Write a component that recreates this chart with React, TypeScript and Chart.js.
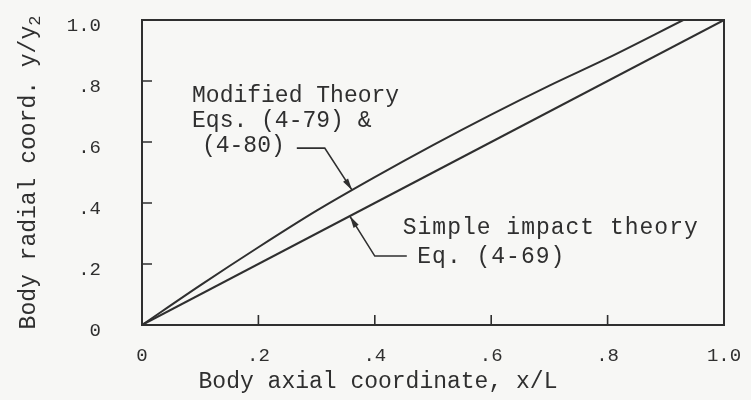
import React, { useEffect, useRef } from "react";
import { Chart, registerables } from "chart.js";

Chart.register(...registerables);

// Body profiles: radial coordinate y/y2 against axial coordinate x/L
const modifiedX = [0, 0.1, 0.2, 0.3, 0.4, 0.5, 0.6, 0.7, 0.8, 0.93];
const modifiedY = [0, 0.13, 0.255, 0.375, 0.485, 0.59, 0.69, 0.785, 0.875, 1.0];
const simpleX = [0, 0.5, 1.0];
const simpleY = [0, 0.5, 1.0];

const xTickValues = [0, 0.2, 0.4, 0.6, 0.8, 1.0];
const xTickLabels = ["0", ".2", ".4", ".6", ".8", "1.0"];
const yTickValues = [0, 0.2, 0.4, 0.6, 0.8, 1.0];
const yTickLabels = ["0", ".2", ".4", ".6", ".8", "1.0"];

const INK = "#2f2f2f";
const PAPER = "#f7f7f5";
const MONO = "'Liberation Mono', 'DejaVu Sans Mono', monospace";

// Callout text, anchored in axis units
const modifiedNote: [string, number, number][] = [
  ["Modified Theory", 0.086, 0.751],
  ["Eqs. (4-79) &", 0.086, 0.669],
  ["(4-80)", 0.103, 0.587],
];
const simpleNote: [string, number, number][] = [
  ["Simple impact theory", 0.448, 0.318],
  ["Eq. (4-69)", 0.473, 0.223],
];
const modifiedLeader: [number, number][] = [
  [0.266, 0.58],
  [0.314, 0.58],
];
const modifiedTipX = 0.361;
const simpleLeader: [number, number][] = [
  [0.455, 0.226],
  [0.4, 0.226],
];
const simpleTipX = 0.357;

function curveAt(xs: number[], ys: number[], x: number): number {
  for (let i = 1; i < xs.length; i++) {
    if (x <= xs[i]) {
      const t = (x - xs[i - 1]) / (xs[i] - xs[i - 1]);
      return ys[i - 1] + t * (ys[i] - ys[i - 1]);
    }
  }
  return ys[ys.length - 1];
}

function toPoints(xs: number[], ys: number[]) {
  return xs.map((x, i) => ({ x, y: ys[i] }));
}

const paperPlugin = {
  id: "paper",
  beforeDraw(chart: any) {
    const { ctx, width, height } = chart;
    ctx.save();
    ctx.fillStyle = PAPER;
    ctx.fillRect(0, 0, width, height);
    ctx.restore();
  },
};

const framePlugin = {
  id: "frame",
  afterDatasetsDraw(chart: any) {
    const { ctx, chartArea } = chart;
    const xs = chart.scales.x;
    const ys = chart.scales.y;
    const { left, right, top, bottom } = chartArea;
    ctx.save();
    ctx.strokeStyle = INK;
    ctx.lineWidth = 2;
    ctx.strokeRect(left, top, right - left, bottom - top);
    ctx.lineWidth = 1.6;
    const tick = 10;
    ctx.beginPath();
    for (const v of xTickValues) {
      if (v <= 0 || v >= 1) continue;
      const px = xs.getPixelForValue(v);
      ctx.moveTo(px, bottom);
      ctx.lineTo(px, bottom - tick);
    }
    for (const v of yTickValues) {
      if (v <= 0 || v >= 1) continue;
      const py = ys.getPixelForValue(v);
      ctx.moveTo(left, py);
      ctx.lineTo(left + tick, py);
    }
    ctx.stroke();
    ctx.restore();
  },
};

function drawArrow(ctx: CanvasRenderingContext2D, pts: [number, number][]) {
  ctx.beginPath();
  ctx.moveTo(pts[0][0], pts[0][1]);
  for (let i = 1; i < pts.length; i++) ctx.lineTo(pts[i][0], pts[i][1]);
  ctx.stroke();
  const [x0, y0] = pts[pts.length - 2];
  const [x1, y1] = pts[pts.length - 1];
  const a = Math.atan2(y1 - y0, x1 - x0);
  const len = 12;
  const half = 3;
  const bx = x1 - len * Math.cos(a);
  const by = y1 - len * Math.sin(a);
  ctx.beginPath();
  ctx.moveTo(x1, y1);
  ctx.lineTo(bx + half * Math.sin(a), by - half * Math.cos(a));
  ctx.lineTo(bx - half * Math.sin(a), by + half * Math.cos(a));
  ctx.closePath();
  ctx.fill();
}

const notesPlugin = {
  id: "notes",
  afterDraw(chart: any) {
    const { ctx, chartArea } = chart;
    const xs = chart.scales.x;
    const ys = chart.scales.y;
    const px = (v: number) => xs.getPixelForValue(v);
    const py = (v: number) => ys.getPixelForValue(v);
    ctx.save();
    ctx.fillStyle = INK;
    ctx.strokeStyle = INK;
    ctx.lineWidth = 1.6;
    ctx.textBaseline = "middle";
    ctx.textAlign = "left";
    ctx.font = `23px ${MONO}`;
    for (const [t, x, y] of modifiedNote) ctx.fillText(t, px(x), py(y));
    (ctx as any).letterSpacing = "1px";
    for (const [t, x, y] of simpleNote) ctx.fillText(t, px(x), py(y));
    (ctx as any).letterSpacing = "0px";

    const m: [number, number][] = modifiedLeader.map(([x, y]) => [px(x), py(y)]);
    m.push([px(modifiedTipX), py(curveAt(modifiedX, modifiedY, modifiedTipX))]);
    drawArrow(ctx, m);
    const s: [number, number][] = simpleLeader.map(([x, y]) => [px(x), py(y)]);
    s.push([px(simpleTipX), py(curveAt(simpleX, simpleY, simpleTipX))]);
    drawArrow(ctx, s);

    // axis titles
    ctx.font = `23px ${MONO}`;
    ctx.textAlign = "center";
    ctx.fillText("Body axial coordinate, x/L", chartArea.left + 236, 382);

    ctx.translate(29, (chartArea.top + chartArea.bottom) / 2);
    ctx.rotate(-Math.PI / 2);
    const main = "Body radial coord. y/y";
    const sub = "2";
    ctx.font = `23px ${MONO}`;
    const wMain = ctx.measureText(main).width;
    ctx.font = `17px ${MONO}`;
    const wSub = ctx.measureText(sub).width;
    const start = -(wMain + wSub) / 2;
    ctx.textAlign = "left";
    ctx.font = `23px ${MONO}`;
    ctx.fillText(main, start, 0);
    ctx.font = `17px ${MONO}`;
    ctx.fillText(sub, start + wMain, 6);
    ctx.restore();
  },
};

export default function App() {
  const canvasRef = useRef<HTMLCanvasElement | null>(null);

  useEffect(() => {
    document.body.style.margin = "0";
    const canvas = canvasRef.current;
    if (!canvas) return;
    const chart = new Chart(canvas, {
      type: "line",
      data: {
        datasets: [
          {
            label: "Modified Theory",
            data: toPoints(modifiedX, modifiedY),
            borderColor: INK,
            borderWidth: 2,
            pointRadius: 0,
            cubicInterpolationMode: "monotone",
            fill: false,
          },
          {
            label: "Simple impact theory",
            data: toPoints(simpleX, simpleY),
            borderColor: INK,
            borderWidth: 2,
            pointRadius: 0,
            fill: false,
          },
        ],
      },
      options: {
        animation: false,
        responsive: false,
        devicePixelRatio: 1,
        layout: { padding: { left: 0, right: 27, top: 20, bottom: 0 } },
        plugins: {
          legend: { display: false },
          tooltip: { enabled: false },
        },
        scales: {
          x: {
            type: "linear",
            min: 0,
            max: 1,
            afterFit(scale: any) {
              scale.height = 75;
              scale.paddingLeft = 0;
              scale.paddingRight = 0;
            },
            afterBuildTicks(scale: any) {
              scale.ticks = xTickValues.map((v) => ({ value: v }));
            },
            grid: { display: false, drawTicks: false },
            border: { display: false },
            ticks: {
              color: INK,
              font: { family: MONO, size: 19 },
              padding: 20,
              maxRotation: 0,
              callback: (v: any) => {
                const i = xTickValues.findIndex((t) => Math.abs(t - Number(v)) < 1e-6);
                return i >= 0 ? xTickLabels[i] : "";
              },
            },
          },
          y: {
            type: "linear",
            min: 0,
            max: 1,
            afterFit(scale: any) {
              scale.width = 142;
              scale.paddingTop = 0;
              scale.paddingBottom = 0;
            },
            afterBuildTicks(scale: any) {
              scale.ticks = yTickValues.map((v) => ({ value: v }));
            },
            grid: { display: false, drawTicks: false },
            border: { display: false },
            ticks: {
              color: INK,
              font: { family: MONO, size: 19 },
              padding: 41,
              labelOffset: 6,
              callback: (v: any) => {
                const i = yTickValues.findIndex((t) => Math.abs(t - Number(v)) < 1e-6);
                return i >= 0 ? yTickLabels[i] : "";
              },
            },
          },
        },
      },
      plugins: [paperPlugin, framePlugin, notesPlugin],
    });
    return () => chart.destroy();
  }, []);

  return (
    <div style={{ width: 751, height: 400 }}>
      <canvas ref={canvasRef} width={751} height={400} style={{ display: "block" }} />
    </div>
  );
}
